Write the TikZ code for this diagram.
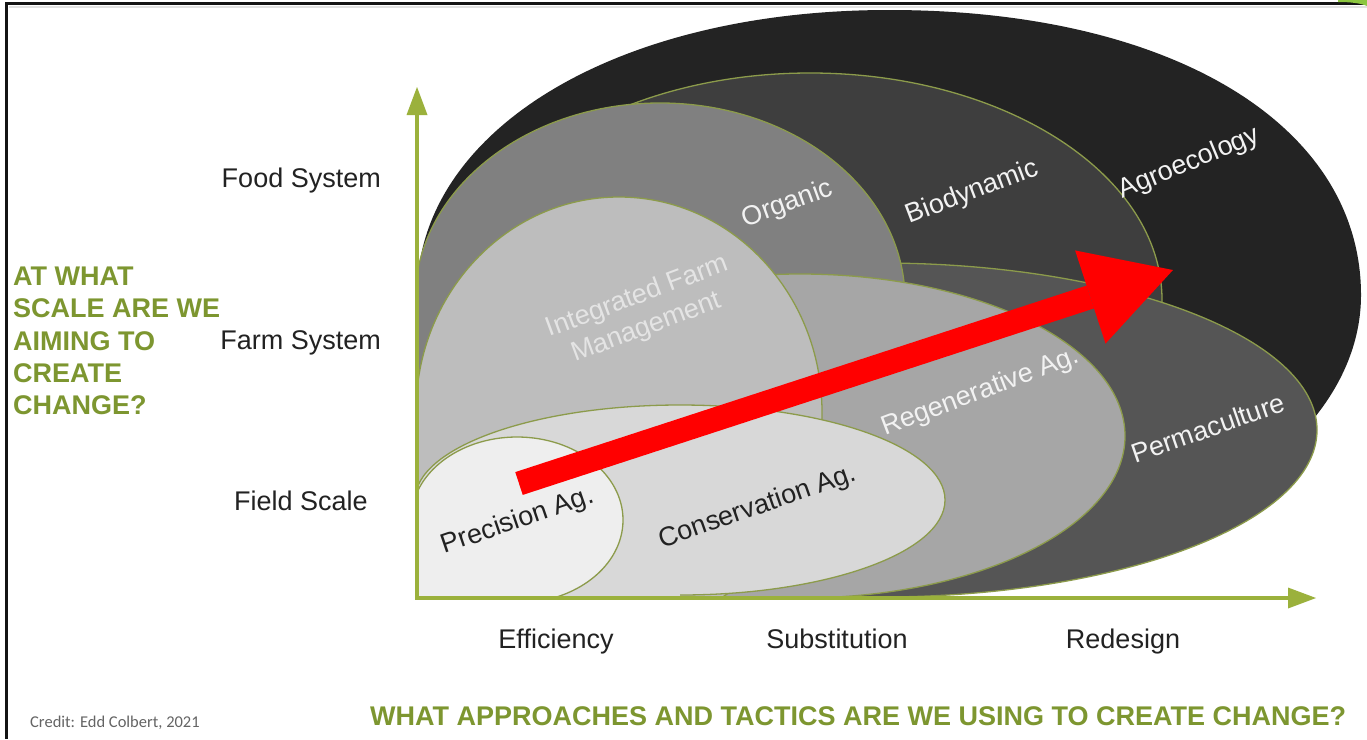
\documentclass[tikz,border=0pt]{standalone}
\usepackage{fontspec}
\setmainfont{Liberation Sans}
\newfontfamily\creditfont{Carlito}
\usetikzlibrary{arrows.meta}
\definecolor{axisgreen}{RGB}{155,177,60}
\definecolor{edgegreen}{RGB}{140,155,75}
\definecolor{qgreen}{RGB}{125,150,48}
\definecolor{labgray}{RGB}{34,34,34}
\definecolor{cAgro}{RGB}{35,35,35}
\definecolor{cBio}{RGB}{62,62,62}
\definecolor{cPerma}{RGB}{85,85,85}
\definecolor{cOrg}{RGB}{128,128,128}
\definecolor{cRegen}{RGB}{166,166,166}
\definecolor{cIFM}{RGB}{189,189,189}
\definecolor{cCons}{RGB}{216,216,216}
\definecolor{cPrec}{RGB}{238,238,238}
\definecolor{arrowred}{RGB}{255,0,0}
\definecolor{framecol}{RGB}{20,20,20}
\definecolor{credgray}{RGB}{100,100,100}
\definecolor{cornergreen}{RGB}{140,198,63}
\definecolor{whitelab}{RGB}{242,242,242}
\definecolor{ifmlab}{RGB}{228,228,228}

\newcommand\agzone[5]{%
  \fill[#1] (410,600) -- (410,#3) -- ({#2-#4},#3) arc[start angle=180,end angle=450,x radius=#4,y radius=#5] -- (#2,600) -- cycle;
  \draw[zoneedge] ({#2-#4},#3) arc[start angle=180,end angle=450,x radius=#4,y radius=#5];
}

\begin{document}
\begin{tikzpicture}[x=1pt,y=-1pt,
  zoneedge/.style={draw=edgegreen,line width=1.3pt},
  axisline/.style={draw=axisgreen,line width=4pt,line join=miter,
     {Triangle[length=28pt,width=21pt,line width=0pt]}-{Triangle[length=28pt,width=21pt,line width=0pt]}},
  redarrow/.style={draw=arrowred,line width=24pt,-{Triangle[length=87pt,width=98pt,line width=0pt]}},
  axislab/.style={font=\fontsize{27}{32}\selectfont,text=labgray,inner sep=0pt},
  qline/.style={font=\fontsize{27}{32}\selectfont\bfseries,text=qgreen,inner sep=0pt,anchor=base west},
  inlab/.style={font=\fontsize{27}{32}\selectfont,inner sep=0pt,anchor=base},
]
\fill[white] (0,0) rectangle (1367,739);
\useasboundingbox (0,0) rectangle (1367,739);

% frame
\draw[line width=2pt,draw={rgb,255:red,225;green,225;blue,225}] (9,6.5) -- (1367,6.5);
\draw[line width=3pt,draw=framecol] (5,3.5) -- (1367,3.5);
\draw[line width=3pt,draw=framecol] (6.5,2) -- (6.5,739);
\fill[cornergreen] (1338,0) -- (1367,0) -- (1367,6) .. controls (1360,3) and (1350,2) .. (1338,2) -- cycle;

% zones
\begin{scope}
\clip (417,0) rectangle (1367,598);
\fill[cAgro] (410,600) -- (410,295) -- (417,295) .. controls (417,131) and (615,10) .. (889,10)
   .. controls (1172,10) and (1361,125) .. (1361,295)
   arc[start angle=0,end angle=90,x radius=472,y radius=283] -- (889,600) -- cycle;
\agzone{cBio}{810}{300}{352}{227}
\agzone{cPerma}{880}{430}{437}{167}
\agzone{cOrg}{660}{300}{245}{197}
\agzone{cRegen}{800}{436}{325}{162}
\agzone{cIFM}{619}{412}{203}{215}
\agzone{cCons}{680}{500}{265}{95}
\agzone{cPrec}{517}{520}{106}{83}
\end{scope}

% zone labels
\node[inlab,text=whitelab,rotate=22.6] (agro) at (1192,170) {Agroecology};
\node[inlab,text=whitelab,rotate=20.8] (biody) at (975,199) {Biodynamic};
\node[inlab,text=whitelab,rotate=20] (organic) at (790,211) {Organic};
\node[inlab,text=ifmlab,rotate=20.4] (ifma) at (640,303.5) {Integrated Farm};
\node[inlab,text=ifmlab,rotate=20.4] (ifmb) at (649,334.5) {Management};
\node[inlab,text=whitelab,rotate=20.7] (regen) at (983,399) {Regenerative Ag.};
\node[inlab,text=whitelab,rotate=19.1] (perma) at (1211,437) {Permaculture};
\node[inlab,text=labgray,rotate=19.3] (conserv) at (760,514) {Conservation Ag.};
\node[inlab,text=labgray,rotate=18.9] (precis) at (520,528) {Precision Ag.};

% axes
\coordinate (origin) at (417,598);
\coordinate (ytip) at (417,87);
\coordinate (xtip) at (1316,598);
\draw[axisline] (ytip) -- (origin) -- (xtip);

% red arrow
\coordinate (rstart) at (519,483.5);
\coordinate (rtip) at (1173,270);
\draw[redarrow] (rstart) -- (rtip);

% axis labels
\node[axislab,anchor=base east] (foodsys) at (381,187) {Food System};
\node[axislab,anchor=base east] (farmsys) at (381,349) {Farm System};
\node[axislab,anchor=base east] (fieldsc) at (368,510) {Field Scale};
\node[axislab,anchor=base] (effic) at (556,648) {Efficiency};
\node[axislab,anchor=base] (subst) at (837,648) {Substitution};
\node[axislab,anchor=base] (redes) at (1123,648) {Redesign};

% questions
\node[qline] (q1) at (13,285) {AT WHAT};
\node[qline] (q2) at (13,317) {SCALE ARE WE};
\node[qline] (q3) at (13,350) {AIMING TO};
\node[qline] (q4) at (13,382) {CREATE};
\node[qline] (q5) at (13,414) {CHANGE?};
\node[qline] (qbottom) at (370,725) {WHAT APPROACHES AND TACTICS ARE WE USING TO CREATE CHANGE?};

\node[font=\creditfont\fontsize{16.5}{18}\selectfont,text=credgray,inner sep=0pt,anchor=base west] (credit) at (30,727) {Credit: Edd Colbert, 2021};
\end{tikzpicture}
\end{document}
